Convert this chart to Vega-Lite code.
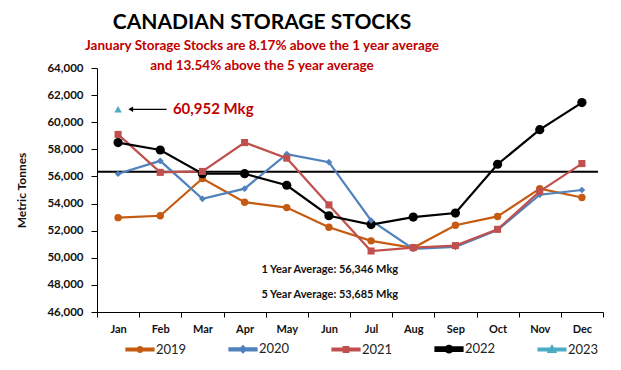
{
  "$schema": "https://vega.github.io/schema/vega-lite/v6.json",
  "width": 506,
  "height": 244,
  "autosize": {"type": "none"},
  "padding": {"left": 97, "top": 68, "right": 18, "bottom": 58},
  "background": "white",
  "config": {
    "font": "Lato",
    "view": {"stroke": null},
    "axis": {"grid": false, "domainColor": "#000", "tickColor": "#000", "labelColor": "#111", "labelFont": "Lato", "labelFontWeight": "bold"}
  },
  "title": {
    "text": "CANADIAN STORAGE STOCKS",
    "subtitle": ["January Storage Stocks are 8.17% above the 1 year average", "and 13.54% above the 5 year average"],
    "anchor": "middle",
    "dx": -88,
    "offset": -10,
    "font": "Lato",
    "fontSize": 21,
    "fontWeight": "bold",
    "color": "#000",
    "subtitleFont": "Lato",
    "subtitleFontSize": 13.5,
    "subtitleFontWeight": "bold",
    "subtitleColor": "#C00000",
    "subtitlePadding": 6,
    "subtitleLineHeight": 20
  },
  "datasets": {
    "stocks": [
      {"m": 1, "year": "2019", "v": 52960}, {"m": 2, "year": "2019", "v": 53100}, {"m": 3, "year": "2019", "v": 55850},
      {"m": 4, "year": "2019", "v": 54100}, {"m": 5, "year": "2019", "v": 53700}, {"m": 6, "year": "2019", "v": 52250},
      {"m": 7, "year": "2019", "v": 51250}, {"m": 8, "year": "2019", "v": 50740}, {"m": 9, "year": "2019", "v": 52400},
      {"m": 10, "year": "2019", "v": 53050}, {"m": 11, "year": "2019", "v": 55100}, {"m": 12, "year": "2019", "v": 54450},
      {"m": 1, "year": "2020", "v": 56200}, {"m": 2, "year": "2020", "v": 57150}, {"m": 3, "year": "2020", "v": 54350},
      {"m": 4, "year": "2020", "v": 55100}, {"m": 5, "year": "2020", "v": 57650}, {"m": 6, "year": "2020", "v": 57050},
      {"m": 7, "year": "2020", "v": 52750}, {"m": 8, "year": "2020", "v": 50650}, {"m": 9, "year": "2020", "v": 50800},
      {"m": 10, "year": "2020", "v": 52050}, {"m": 11, "year": "2020", "v": 54650}, {"m": 12, "year": "2020", "v": 55000},
      {"m": 1, "year": "2021", "v": 59100}, {"m": 2, "year": "2021", "v": 56300}, {"m": 3, "year": "2021", "v": 56370},
      {"m": 4, "year": "2021", "v": 58500}, {"m": 5, "year": "2021", "v": 57350}, {"m": 6, "year": "2021", "v": 53900},
      {"m": 7, "year": "2021", "v": 50500}, {"m": 8, "year": "2021", "v": 50750}, {"m": 9, "year": "2021", "v": 50900},
      {"m": 10, "year": "2021", "v": 52100}, {"m": 11, "year": "2021", "v": 54900}, {"m": 12, "year": "2021", "v": 56950},
      {"m": 1, "year": "2022", "v": 58500}, {"m": 2, "year": "2022", "v": 57950}, {"m": 3, "year": "2022", "v": 56200},
      {"m": 4, "year": "2022", "v": 56200}, {"m": 5, "year": "2022", "v": 55350}, {"m": 6, "year": "2022", "v": 53100},
      {"m": 7, "year": "2022", "v": 52450}, {"m": 8, "year": "2022", "v": 53000}, {"m": 9, "year": "2022", "v": 53300},
      {"m": 10, "year": "2022", "v": 56900}, {"m": 11, "year": "2022", "v": 59450}, {"m": 12, "year": "2022", "v": 61450},
      {"m": 1, "year": "2023", "v": 60952}
    ]
  },
  "encoding": {
    "x": {"field": "m", "type": "quantitative", "scale": {"domain": [0.5, 12.5], "nice": false, "zero": false},
          "axis": {"values": [0.5,1,1.5,2,2.5,3,3.5,4,4.5,5,5.5,6,6.5,7,7.5,8,8.5,9,9.5,10,10.5,11,11.5,12,12.5],
                   "tickSize": 5, "tickOpacity": {"condition": {"test": "datum.value % 1 === 0", "value": 0}, "value": 1},
                   "labelFontSize": 11, "labelPadding": 6, "title": null, "labelOverlap": false,
                   "labelExpr": "datum.value % 1 === 0 ? ['Jan','Feb','Mar','Apr','May','Jun','Jul','Aug','Sep','Oct','Nov','Dec'][datum.value - 1] : ''"}},
    "y": {"field": "v", "type": "quantitative", "scale": {"domain": [46000, 64000], "nice": false, "zero": false},
          "axis": {"values": [46000,48000,50000,52000,54000,56000,58000,60000,62000,64000], "format": ",.0f", "labelFontSize": 11.5, "tickSize": 6, "labelPadding": 8,
                   "title": "Metric Tonnes", "titleFontSize": 12, "titleFontWeight": "bold", "titleColor": "#111", "titlePadding": 18}}
  },
  "layer": [
    {
      "data": {"values": [{"m": 0.5, "m2": 12.38, "v": 56346}]},
      "mark": {"type": "rule", "color": "#000", "strokeWidth": 2},
      "encoding": {"x2": {"field": "m2"}}
    },
    {
      "data": {"name": "stocks"},
      "mark": {"type": "line"},
      "encoding": {
        "color": {"field": "year", "type": "nominal", "title": null,
                  "scale": {"domain": ["2019","2020","2021","2022","2023"], "range": ["#C55A11","#4F81BD","#C0504D","#000000","#4BACC6"]},
                  "legend": {"orient": "none", "legendX": 28, "legendY": 266, "direction": "horizontal", "columns": 5, "columnPadding": 38,
                             "labelFontSize": 13, "labelFont": "Lato", "labelColor": "#222", "symbolSize": 729, "symbolStrokeWidth": 0, "labelOffset": 1}},
        "strokeWidth": {"field": "year", "type": "nominal", "legend": null,
                  "scale": {"domain": ["2019","2020","2021","2022","2023"], "range": [2.2, 2.2, 2.2, 3.5, 2.2]}}
      }
    },
    {
      "data": {"name": "stocks"},
      "transform": [{"filter": "datum.year === '2019' || datum.year === '2022'"}],
      "mark": {"type": "point", "shape": "circle", "filled": true, "opacity": 1},
      "encoding": {
        "color": {"field": "year", "type": "nominal", "title": null},
        "size": {"field": "year", "type": "nominal", "legend": null,
                 "scale": {"domain": ["2019","2022"], "range": [55, 85]}}
      }
    },
    {
      "data": {"name": "stocks"},
      "transform": [{"filter": "datum.year === '2020'"}],
      "mark": {"type": "point", "shape": "diamond", "filled": true, "opacity": 1, "size": 45},
      "encoding": {"color": {"field": "year", "type": "nominal", "title": null}}
    },
    {
      "data": {"name": "stocks"},
      "transform": [{"filter": "datum.year === '2021'"}],
      "mark": {"type": "point", "shape": "square", "filled": true, "opacity": 1, "size": 50},
      "encoding": {"color": {"field": "year", "type": "nominal", "title": null}}
    },
    {
      "data": {"name": "stocks"},
      "transform": [{"filter": "datum.year === '2023'"}],
      "mark": {"type": "point", "shape": "triangle-up", "filled": true, "opacity": 1, "size": 55},
      "encoding": {"color": {"field": "year", "type": "nominal", "title": null}}
    },
    {
      "data": {"values": []},
      "mark": {"type": "point", "filled": true, "opacity": 1, "strokeWidth": 0},
      "encoding": {
        "color": {"field": "year", "type": "nominal", "title": null,
                  "legend": {"orient": "none", "legendX": 28, "legendY": 266, "direction": "horizontal", "columns": 5, "columnPadding": 38,
                             "labelFontSize": 13, "labelFont": "Lato", "labelColor": "#222", "symbolSize": 729, "symbolStrokeWidth": 0, "labelOffset": 1}},
        "shape": {"field": "year", "type": "nominal", "title": null,
                  "scale": {"domain": ["2019","2020","2021","2022","2023"],
                            "range": [
                              "M-1,-0.075H1V0.075H-1ZM-0.18,0A0.18,0.18,0,1,1,0.18,0A0.18,0.18,0,1,1,-0.18,0Z",
                              "M-1,-0.075H1V0.075H-1ZM0,-0.22L0.22,0L0,0.22L-0.22,0Z",
                              "M-1,-0.075H1V0.075H-1ZM-0.17,-0.17H0.17V0.17H-0.17Z",
                              "M-1,-0.13H1V0.13H-1ZM-0.25,0A0.25,0.25,0,1,1,0.25,0A0.25,0.25,0,1,1,-0.25,0Z",
                              "M-1,-0.075H1V0.075H-1ZM0,-0.24L0.24,0.17H-0.24Z"
                            ]},
                  "legend": {"orient": "none", "legendX": 28, "legendY": 266, "direction": "horizontal", "columns": 5, "columnPadding": 38,
                             "labelFontSize": 13, "labelFont": "Lato", "labelColor": "#222", "symbolSize": 729, "symbolStrokeWidth": 0, "labelOffset": 1}}
      }
    },
    {
      "data": {"values": [{"m": 2.15, "m2": 1.34, "v": 60952}]},
      "mark": {"type": "rule", "color": "#000", "strokeWidth": 1.2},
      "encoding": {"x2": {"field": "m2"}}
    },
    {
      "data": {"values": [{"m": 1.3, "v": 60952}]},
      "mark": {"type": "point", "shape": "triangle-left", "filled": true, "color": "#000", "size": 30, "opacity": 1}
    },
    {
      "data": {"values": [{"m": 2.3, "v": 60952, "t": "60,952 Mkg"}]},
      "mark": {"type": "text", "align": "left", "baseline": "middle", "color": "#C00000", "fontSize": 15, "fontWeight": "bold", "font": "Lato"},
      "encoding": {"text": {"field": "t"}}
    },
    {
      "data": {"values": [{"m": 6.02, "v": 49110, "t": "1 Year Average: 56,346 Mkg"}, {"m": 6.02, "v": 47260, "t": "5 Year Average: 53,685 Mkg"}]},
      "mark": {"type": "text", "align": "center", "baseline": "middle", "color": "#111", "fontSize": 11, "fontWeight": "bold", "font": "Lato"},
      "encoding": {"text": {"field": "t"}}
    }
  ]
}
